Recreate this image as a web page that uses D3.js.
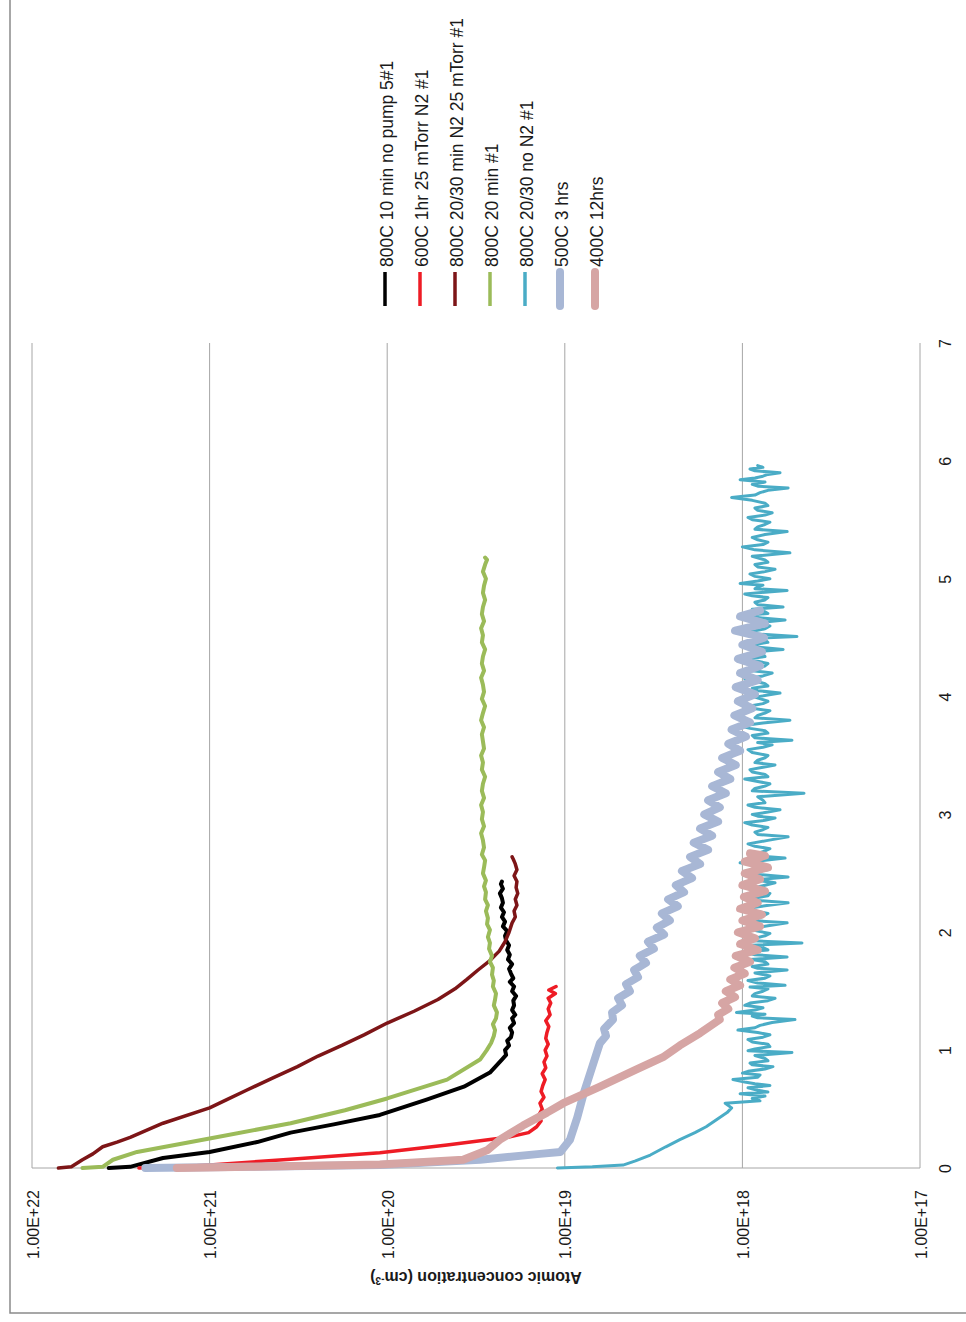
<!DOCTYPE html>
<html lang="en">

<head>
  <meta charset="utf-8" />
  <title>Atomic concentration depth profiles</title>
  <script src="https://cdn.jsdelivr.net/npm/d3@7/dist/d3.min.js"></script>
  <style>
    body {
      margin: 0;
      background: #fff;
    }

    text {
      font-family: "Liberation Sans", Arial, sans-serif;
      fill: #1a1a1a;
    }
  </style>
</head>

<body>
  <script>
    // depth on one axis, atomic concentration (cm^-3) on the other
    var depthTicks = [0, 1, 2, 3, 4, 5, 6, 7];
    var concTicks = [1e22, 1e21, 1e20, 1e19, 1e18, 1e17];
    var concLabels = ["1.00E+22", "1.00E+21", "1.00E+20", "1.00E+19", "1.00E+18", "1.00E+17"];

    var seriesNames = ["800C 10 min no pump 5#1", "600C 1hr 25 mTorr N2 #1", "800C 20/30 min N2 25 mTorr #1",
      "800C 20 min #1", "800C 20/30 no N2 #1", "500C 3 hrs", "400C 12hrs"];

    // [depth, concentration]
    var black800 = [[0, 3.7e21], [0.01, 2.8e21], [0.085, 1.83e21], [0.136, 1.0e21], [0.22, 5.4e20], [0.30, 3.5e20],
    [0.37, 2.0e20], [0.45, 1.1e20], [0.58, 6.0e19], [0.69, 3.7e19], [0.81, 2.64e19], [0.92, 2.26e19], [0.96, 2.14e19],
    [1.00, 2.17e19], [1.04, 2.06e19], [1.08, 2.11e19], [1.11, 2.01e19], [1.15, 1.98e19], [1.19, 2.04e19], [1.23, 1.93e19],
    [1.27, 1.98e19], [1.30, 1.90e19], [1.34, 1.98e19], [1.38, 1.93e19], [1.42, 1.95e19], [1.46, 1.88e19], [1.50, 1.98e19],
    [1.54, 1.93e19], [1.58, 2.04e19], [1.61, 1.95e19], [1.65, 2.01e19], [1.69, 2.06e19], [1.73, 1.98e19], [1.77, 2.09e19],
    [1.81, 2.04e19], [1.85, 2.11e19], [1.89, 2.06e19], [1.93, 2.14e19], [1.97, 2.17e19], [2.01, 2.11e19], [2.05, 2.23e19],
    [2.09, 2.17e19], [2.13, 2.26e19], [2.17, 2.20e19], [2.21, 2.29e19], [2.25, 2.23e19], [2.29, 2.26e19], [2.33, 2.32e19],
    [2.37, 2.23e19], [2.41, 2.29e19], [2.43, 2.26e19]];

    var red600 = [[0, 2.5e21], [0.01, 1.5e21], [0.025, 1.0e21], [0.075, 3.5e20], [0.13, 1.1e20], [0.195, 4.6e19],
    [0.26, 2.1e19], [0.30, 1.6e19], [0.35, 1.44e19], [0.40, 1.36e19], [0.45, 1.40e19], [0.50, 1.34e19], [0.55, 1.38e19],
    [0.60, 1.31e19], [0.65, 1.36e19], [0.70, 1.33e19], [0.75, 1.29e19], [0.80, 1.34e19], [0.85, 1.28e19], [0.90, 1.31e19],
    [0.95, 1.26e19], [1.00, 1.29e19], [1.05, 1.24e19], [1.10, 1.28e19], [1.15, 1.26e19], [1.20, 1.23e19], [1.25, 1.28e19],
    [1.30, 1.21e19], [1.35, 1.24e19], [1.40, 1.20e19], [1.44, 1.24e19], [1.48, 1.13e19], [1.51, 1.23e19], [1.54, 1.12e19]];

    var darkRed800 = [[0, 7.1e21], [0.01, 6.0e21], [0.07, 5.2e21], [0.12, 4.54e21], [0.18, 4.0e21], [0.22, 3.32e21],
    [0.26, 2.8e21], [0.38, 1.83e21], [0.51, 1.0e21], [0.58, 8.0e20], [0.66, 6.2e20], [0.76, 4.46e20], [0.86, 3.2e20],
    [0.95, 2.45e20], [1.04, 1.8e20], [1.13, 1.35e20], [1.23, 1.0e20], [1.33, 7.06e19], [1.43, 5.18e19], [1.52, 4.15e19],
    [1.60, 3.56e19], [1.68, 3.08e19], [1.76, 2.64e19], [1.84, 2.34e19], [1.92, 2.17e19], [2.00, 2.06e19], [2.08, 1.98e19],
    [2.13, 1.90e19], [2.18, 1.93e19], [2.23, 1.86e19], [2.28, 1.90e19], [2.33, 1.84e19], [2.38, 1.88e19], [2.43, 1.86e19],
    [2.48, 1.93e19], [2.53, 1.86e19], [2.58, 1.90e19], [2.62, 1.95e19], [2.64, 1.98e19]];

    var green800 = [[0, 5.2e21], [0.01, 4.0e21], [0.07, 3.5e21], [0.136, 2.56e21], [0.25, 1.0e21], [0.38, 3.5e20],
    [0.49, 1.73e20], [0.59, 1.0e20], [0.75, 4.6e19], [0.92, 3.0e19], [1.0, 2.75e19], [1.06, 2.60e19], [1.12, 2.51e19],
    [1.17, 2.47e19], [1.22, 2.54e19], [1.27, 2.44e19], [1.32, 2.41e19], [1.38, 2.51e19], [1.43, 2.47e19], [1.48, 2.44e19],
    [1.54, 2.54e19], [1.59, 2.51e19], [1.64, 2.57e19], [1.70, 2.54e19], [1.75, 2.64e19], [1.80, 2.57e19], [1.86, 2.67e19],
    [1.91, 2.64e19], [1.96, 2.71e19], [2.02, 2.64e19], [2.07, 2.74e19], [2.12, 2.71e19], [2.18, 2.78e19], [2.23, 2.71e19],
    [2.28, 2.81e19], [2.34, 2.78e19], [2.39, 2.85e19], [2.44, 2.78e19], [2.50, 2.89e19], [2.55, 2.85e19], [2.61, 2.81e19],
    [2.66, 2.93e19], [2.72, 2.85e19], [2.78, 2.89e19], [2.84, 2.96e19], [2.90, 2.85e19], [2.96, 2.93e19], [3.02, 2.89e19],
    [3.08, 2.96e19], [3.14, 2.85e19], [3.20, 2.93e19], [3.26, 2.89e19], [3.32, 2.81e19], [3.38, 2.93e19], [3.44, 2.89e19],
    [3.50, 2.96e19], [3.56, 2.85e19], [3.62, 2.89e19], [3.68, 2.93e19], [3.74, 2.85e19], [3.80, 2.96e19], [3.86, 2.89e19],
    [3.92, 2.81e19], [3.98, 2.93e19], [4.04, 2.85e19], [4.10, 2.89e19], [4.16, 2.96e19], [4.22, 2.85e19], [4.28, 2.93e19],
    [4.34, 2.89e19], [4.40, 2.81e19], [4.46, 2.93e19], [4.52, 2.89e19], [4.58, 2.96e19], [4.64, 2.85e19], [4.70, 2.93e19],
    [4.76, 2.89e19], [4.82, 2.81e19], [4.88, 2.89e19], [4.94, 2.85e19], [5.00, 2.78e19], [5.06, 2.89e19], [5.12, 2.81e19],
    [5.16, 2.74e19], [5.18, 2.81e19]];

    var teal800 = [[0, 1.1e19], [0.01, 7.0e18], [0.025, 4.7e18], [0.06, 4.0e18], [0.11, 3.3e18], [0.18, 2.7e18],
    [0.24, 2.25e18], [0.30, 1.85e18], [0.35, 1.6e18], [0.41, 1.4e18], [0.47, 1.22e18], [0.51, 1.15e18], [0.55, 1.25e18],
    [0.57, 7.96e17], [0.59, 8.8e17], [0.61, 7.46e17], [0.63, 1.03e18], [0.645, 7.18e17], [0.66, 8.2e17], [0.68, 9.3e17],
    [0.70, 7.0e17], [0.715, 8.5e17], [0.73, 9.7e17], [0.75, 1.13e18], [0.77, 8.2e17], [0.79, 7.96e17], [0.805, 1.0e18],
    [0.82, 9.3e17], [0.84, 7.46e17], [0.86, 6.73e17], [0.875, 8.8e17], [0.89, 9.06e17], [0.91, 7.18e17], [0.93, 7.46e17],
    [0.955, 8.5e17], [0.98, 5.26e17], [0.995, 9.3e17], [1.01, 8.5e17], [1.03, 7.0e17], [1.05, 7.18e17], [1.07, 8.8e17],
    [1.09, 9.3e17], [1.11, 7.66e17], [1.13, 7.0e17], [1.15, 8.2e17], [1.17, 1.06e18], [1.19, 8.5e17], [1.21, 7.96e17],
    [1.235, 6.8e17], [1.26, 5.06e17], [1.275, 8.2e17], [1.29, 8.8e17], [1.305, 7.46e17], [1.32, 1.08e18], [1.34, 8.5e17],
    [1.36, 7.66e17], [1.38, 9.7e17], [1.40, 9.06e17], [1.42, 7.18e17], [1.44, 6.55e17], [1.46, 8.8e17], [1.48, 8.5e17],
    [1.50, 7.66e17], [1.52, 7.18e17], [1.535, 9.06e17], [1.55, 5.75e17], [1.57, 8.2e17], [1.59, 9.3e17], [1.61, 7.46e17],
    [1.63, 7.0e17], [1.655, 8.5e17], [1.68, 5.6e17], [1.695, 8.2e17], [1.71, 8.8e17], [1.73, 7.18e17], [1.75, 7.46e17],
    [1.77, 9.06e17], [1.79, 5.6e17], [1.81, 8.5e17], [1.83, 9.7e17], [1.85, 7.18e17], [1.87, 7.66e17], [1.89, 8.8e17],
    [1.91, 4.62e17], [1.93, 9.3e17], [1.95, 8.5e17], [1.97, 7.46e17], [1.99, 7.0e17], [2.01, 8.2e17], [2.03, 9.3e17],
    [2.055, 7.18e17], [2.08, 5.6e17], [2.10, 8.8e17], [2.12, 8.2e17], [2.14, 7.66e17], [2.16, 7.18e17], [2.18, 8.5e17],
    [2.20, 9.7e17], [2.225, 7.46e17], [2.25, 5.53e17], [2.27, 8.2e17], [2.29, 8.5e17], [2.31, 7.18e17], [2.33, 7.0e17],
    [2.35, 8.8e17], [2.37, 9.06e17], [2.395, 7.66e17], [2.42, 6.55e17], [2.445, 8.5e17], [2.47, 5.53e17], [2.49, 8.2e17],
    [2.51, 8.8e17], [2.53, 7.18e17], [2.55, 7.46e17], [2.57, 8.5e17], [2.59, 1.03e18], [2.61, 7.66e17], [2.63, 5.75e17],
    [2.65, 8.8e17], [2.67, 8.2e17], [2.69, 7.46e17], [2.71, 7.0e17], [2.73, 8.5e17], [2.75, 9.3e17], [2.78, 7.18e17],
    [2.81, 5.53e17], [2.83, 8.2e17], [2.85, 8.5e17], [2.87, 7.66e17], [2.89, 7.18e17], [2.91, 8.8e17], [2.93, 9.7e17],
    [2.95, 7.46e17], [2.97, 6.55e17], [2.985, 8.2e17], [3.00, 8.8e17], [3.02, 7.18e17], [3.04, 6.14e17], [3.06, 8.5e17],
    [3.08, 9.3e17], [3.10, 7.46e17], [3.12, 7.66e17], [3.15, 8.2e17], [3.18, 4.5e17], [3.20, 8.8e17], [3.22, 8.5e17],
    [3.24, 7.46e17], [3.26, 7.0e17], [3.28, 8.2e17], [3.30, 9.7e17], [3.32, 7.18e17], [3.34, 7.46e17], [3.36, 8.8e17],
    [3.38, 9.06e17], [3.40, 7.66e17], [3.42, 6.55e17], [3.44, 8.5e17], [3.46, 8.2e17], [3.48, 7.46e17], [3.50, 7.18e17],
    [3.525, 8.8e17], [3.55, 9.3e17], [3.57, 7.66e17], [3.59, 6.8e17], [3.61, 8.2e17], [3.63, 5.26e17], [3.65, 8.5e17],
    [3.67, 8.8e17], [3.69, 7.18e17], [3.71, 7.46e17], [3.73, 9.06e17], [3.75, 1.03e18], [3.775, 7.66e17], [3.80, 5.4e17],
    [3.82, 8.5e17], [3.84, 8.2e17], [3.86, 7.46e17], [3.88, 7.0e17], [3.90, 8.8e17], [3.92, 9.06e17], [3.94, 7.66e17],
    [3.96, 7.18e17], [3.995, 8.5e17], [4.03, 6.14e17], [4.05, 8.2e17], [4.07, 8.8e17], [4.09, 7.18e17], [4.11, 7.46e17],
    [4.13, 8.5e17], [4.15, 9.7e17], [4.175, 7.66e17], [4.20, 6.8e17], [4.22, 8.8e17], [4.24, 8.5e17], [4.26, 7.46e17],
    [4.28, 7.18e17], [4.30, 8.2e17], [4.32, 9.3e17], [4.34, 7.46e17], [4.36, 7.66e17], [4.38, 8.5e17], [4.40, 5.9e17],
    [4.42, 8.2e17], [4.44, 8.8e17], [4.46, 7.18e17], [4.48, 7.46e17], [4.495, 8.5e17], [4.51, 4.93e17], [4.53, 8.2e17],
    [4.55, 9.06e17], [4.575, 7.46e17], [4.60, 7.0e17], [4.625, 8.5e17], [4.65, 5.75e17], [4.67, 8.2e17], [4.69, 9.3e17],
    [4.705, 7.18e17], [4.72, 7.46e17], [4.74, 8.8e17], [4.76, 5.9e17], [4.78, 8.2e17], [4.80, 8.5e17], [4.82, 7.46e17],
    [4.84, 7.18e17], [4.855, 8.8e17], [4.87, 9.7e17], [4.885, 7.46e17], [4.90, 5.6e17], [4.915, 8.5e17], [4.93, 8.2e17],
    [4.945, 7.66e17], [4.96, 1.03e18], [4.98, 8.2e17], [5.00, 7.0e17], [5.02, 8.5e17], [5.04, 9.06e17], [5.06, 7.46e17],
    [5.08, 6.55e17], [5.10, 8.2e17], [5.12, 8.5e17], [5.14, 7.18e17], [5.16, 7.46e17], [5.19, 8.8e17], [5.22, 5.4e17],
    [5.245, 8.5e17], [5.27, 1.0e18], [5.29, 7.66e17], [5.31, 7.18e17], [5.33, 8.2e17], [5.35, 8.8e17], [5.375, 7.46e17],
    [5.40, 5.6e17], [5.42, 8.5e17], [5.44, 8.2e17], [5.46, 7.46e17], [5.48, 7.0e17], [5.50, 8.8e17], [5.52, 9.3e17],
    [5.54, 7.46e17], [5.56, 6.8e17], [5.58, 8.2e17], [5.60, 8.5e17], [5.62, 7.18e17], [5.64, 7.46e17], [5.665, 8.8e17],
    [5.69, 1.15e18], [5.71, 8.5e17], [5.73, 7.96e17], [5.75, 7.18e17], [5.77, 5.53e17], [5.785, 8.2e17], [5.80, 8.8e17],
    [5.82, 7.46e17], [5.84, 1.03e18], [5.855, 8.5e17], [5.87, 7.66e17], [5.885, 7.18e17], [5.90, 6.14e17], [5.915, 8.5e17],
    [5.93, 9.06e17], [5.945, 7.66e17], [5.96, 8.2e17]];

    var blue500 = [[0, 2.3e21], [0.01, 5.9e20], [0.025, 1.1e20], [0.07, 3.0e19], [0.12, 1.38e19], [0.135, 1.06e19],
    [0.24, 9.35e18], [0.43, 8.5e18], [0.64, 7.8e18], [0.86, 7.0e18], [1.06, 6.34e18], [1.12, 5.86e18], [1.18, 6.01e18],
    [1.26, 5.35e18], [1.32, 5.42e18], [1.38, 4.76e18], [1.44, 5.01e18], [1.50, 4.30e18], [1.56, 4.52e18], [1.62, 3.87e18],
    [1.68, 4.07e18], [1.74, 3.49e18], [1.80, 3.78e18], [1.86, 3.15e18], [1.92, 3.40e18], [1.98, 2.76e18], [2.04, 3.03e18],
    [2.10, 2.56e18], [2.16, 2.84e18], [2.22, 2.31e18], [2.28, 2.62e18], [2.34, 2.13e18], [2.40, 2.37e18], [2.46, 1.92e18],
    [2.52, 2.19e18], [2.58, 1.73e18], [2.64, 1.97e18], [2.70, 1.56e18], [2.76, 1.88e18], [2.82, 1.48e18], [2.88, 1.73e18],
    [2.94, 1.37e18], [3.00, 1.64e18], [3.06, 1.34e18], [3.12, 1.56e18], [3.18, 1.24e18], [3.24, 1.48e18], [3.30, 1.17e18],
    [3.36, 1.37e18], [3.42, 1.09e18], [3.48, 1.30e18], [3.54, 1.03e18], [3.60, 1.20e18], [3.66, 9.55e17], [3.72, 1.15e18],
    [3.78, 9.06e17], [3.84, 1.11e18], [3.90, 8.8e17], [3.96, 1.06e18], [4.02, 8.5e17], [4.08, 1.09e18], [4.14, 8.2e17],
    [4.20, 1.03e18], [4.26, 7.96e17], [4.32, 1.06e18], [4.38, 7.76e17], [4.44, 1.0e18], [4.50, 7.55e17], [4.56, 1.10e18],
    [4.62, 7.46e17], [4.68, 1.03e18], [4.73, 7.96e17]];

    var pink400 = [[0, 1.53e21], [0.01, 5.9e20], [0.03, 1.1e20], [0.07, 3.74e19], [0.15, 2.74e19], [0.24, 2.32e19],
    [0.36, 1.72e19], [0.47, 1.26e19], [0.55, 1.02e19], [0.69, 6.34e18], [0.83, 4.03e18], [0.94, 2.8e18], [1.04, 2.25e18],
    [1.145, 1.73e18], [1.26, 1.34e18], [1.30, 1.37e18], [1.35, 1.20e18], [1.40, 1.30e18], [1.45, 1.10e18], [1.50, 1.24e18],
    [1.55, 1.03e18], [1.60, 1.17e18], [1.65, 9.7e17], [1.70, 1.11e18], [1.75, 9.06e17], [1.80, 1.09e18], [1.85, 8.2e17],
    [1.90, 1.03e18], [1.95, 8.5e17], [2.00, 1.06e18], [2.05, 7.96e17], [2.10, 1.0e18], [2.15, 7.76e17], [2.20, 1.03e18],
    [2.25, 8.2e17], [2.30, 9.8e17], [2.35, 7.46e17], [2.40, 1.0e18], [2.45, 7.96e17], [2.50, 9.7e17], [2.55, 7.18e17],
    [2.60, 9.7e17], [2.65, 7.46e17], [2.67, 9.06e17]];

    var seriesData = [black800, red600, darkRed800, green800, teal800, blue500, pink400];
    var seriesColors = ["#000000", "#ee1c25", "#7d1517", "#9bbb59", "#4aacc6", "#a8b7d5", "#d6a5a4"];
    var seriesWidths = [4, 3.5, 3.5, 4, 3, 8, 8];

    var width = 966;
    var height = 1322;

    var svg = d3.select("body")
      .append("svg")
      .attr("width", width)
      .attr("height", height);

    // outer chart frame
    svg.append("rect")
      .attr("x", 10).attr("y", -2)
      .attr("width", 970).attr("height", 1315)
      .attr("fill", "none")
      .attr("stroke", "#8a8a8a")
      .attr("stroke-width", 1.5);

    // chart is turned: depth runs upward, concentration leftward
    var DepthScale = d3.scaleLinear().domain([0, 7]).range([1168, 343]);
    var ConcScale = d3.scaleLog().domain([1e17, 1e22]).range([920, 32]);

    // gridlines
    svg.append("g")
      .selectAll("line")
      .data(concTicks)
      .enter()
      .append("line")
      .attr("x1", function (d) { return ConcScale(d); })
      .attr("x2", function (d) { return ConcScale(d); })
      .attr("y1", DepthScale(7))
      .attr("y2", DepthScale(0))
      .attr("stroke", "#a6a6a6")
      .attr("stroke-width", 1);

    svg.append("line")
      .attr("x1", ConcScale(1e22)).attr("x2", ConcScale(1e17))
      .attr("y1", DepthScale(0)).attr("y2", DepthScale(0))
      .attr("stroke", "#a6a6a6")
      .attr("stroke-width", 1);

    // depth axis (labels on the right)
    var DepthAxis = svg.append("g")
      .attr("transform", "translate(" + ConcScale(1e17) + ",0)")
      .call(d3.axisRight(DepthScale).tickValues(depthTicks).tickSize(0).tickFormat(d3.format("d")));
    DepthAxis.select(".domain").remove();
    DepthAxis.selectAll("text")
      .attr("x", null).attr("dy", null)
      .attr("transform", "translate(31,0) rotate(-90)")
      .attr("text-anchor", "middle")
      .style("font-size", "16px")
      .style("font-family", "'Liberation Sans', Arial, sans-serif")
      .attr("fill", "#1a1a1a");

    // concentration axis (labels below)
    var ConcAxis = svg.append("g")
      .attr("transform", "translate(0," + DepthScale(0) + ")")
      .call(d3.axisBottom(ConcScale).tickValues(concTicks).tickSize(0)
        .tickFormat(function (d, i) { return concLabels[i]; }));
    ConcAxis.select(".domain").remove();
    ConcAxis.selectAll("text")
      .attr("y", null).attr("dy", null)
      .attr("transform", "translate(6,22) rotate(-90)")
      .attr("text-anchor", "end")
      .style("font-size", "16px")
      .style("font-family", "'Liberation Sans', Arial, sans-serif")
      .attr("fill", "#1a1a1a");

    var title = svg.append("text")
      .attr("transform", "translate(476,1272) rotate(180)")
      .attr("text-anchor", "middle")
      .attr("font-size", 16)
      .attr("font-weight", "bold");
    title.append("tspan").text("Atomic concentration (cm");
    title.append("tspan").attr("baseline-shift", "super").attr("font-size", 10).text("-3");
    title.append("tspan").text(")");

    // series
    var line = d3.line()
      .x(function (d) { return ConcScale(d[1]); })
      .y(function (d) { return DepthScale(d[0]); });

    for (var j = 0; j < seriesData.length; j++) {
      svg.append("path")
        .datum(seriesData[j])
        .attr("d", line)
        .attr("fill", "none")
        .attr("stroke", seriesColors[j])
        .attr("stroke-width", seriesWidths[j])
        .attr("stroke-linejoin", "round")
        .attr("stroke-linecap", "round");
    }

    // legend
    var legend = svg.append("g")
      .selectAll("g")
      .data(seriesNames)
      .enter()
      .append("g")
      .attr("transform", function (d, i) { return "translate(" + (385 + i * 35) + ",0)"; });

    legend.append("line")
      .attr("x1", 0).attr("x2", 0)
      .attr("y1", 272).attr("y2", 306)
      .attr("stroke", function (d, i) { return seriesColors[i]; })
      .attr("stroke-width", function (d, i) { return seriesWidths[i] > 5 ? 8 : 3.5; })
      .attr("stroke-linecap", function (d, i) { return seriesWidths[i] > 5 ? "round" : "butt"; });

    legend.append("text")
      .attr("transform", "translate(7.5,267) rotate(-90)")
      .attr("text-anchor", "start")
      .attr("font-size", 17.5)
      .text(function (d) { return d; });
  </script>
</body>

</html>
